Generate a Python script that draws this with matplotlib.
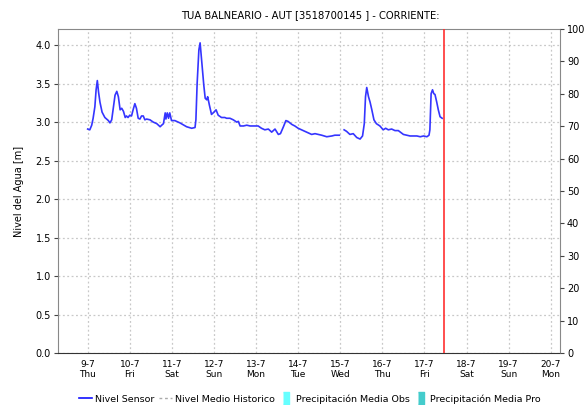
import numpy as np
import matplotlib
matplotlib.use("Agg")
import matplotlib.pyplot as plt
from matplotlib.lines import Line2D

# Sensor readings: hours since 9-7 00:00 and water level [m]; NaN marks the outage
hours = [0, 1.2, 2.3, 3.1, 4.1, 4.8, 5.5, 6.2, 7.0, 8.2, 9.8, 11.8, 12.7, 13.7,
         14.6, 15.6, 16.6, 17.5, 18.5, 19.4, 20.4, 21.4, 22.1, 23.0, 24.0, 25.0,
         25.9, 26.9, 27.8, 28.8, 29.8, 30.7, 31.7, 32.6, 33.6, 35.5, 37.4, 39.4,
         41.3, 42.2, 43.2, 44.2, 44.6, 45.4, 46.1, 46.8, 47.8, 49.7, 52.6, 56.4,
         59.3, 61.2, 61.7, 62.4, 63.4, 64.1, 64.8, 65.5, 66.2, 67.0, 67.9, 68.4,
         69.4, 70.6, 72.0, 73.2, 74.4, 76.3, 78.2, 79.2, 81.1, 83.0, 85.0, 85.9,
         86.9, 88.8, 90.7, 92.6, 94.6, 96.2, 97.2, 99.1, 101.0, 103.0, 104.9,
         106.8, 108.7, 109.9, 111.6, 113.0, 114.2, 116.4, 118.1, 120.0, 122.9,
         125.8, 127.7, 129.6, 131.5, 133.4, 136.3, 139.2, 140.9, 143.5, 144.8,
         146.2, 147.6, 149.5, 151.4, 153.4, 155.3, 156.7, 157.7, 158.4, 159.1,
         160.1, 161.0, 162.0, 163.2, 164.6, 166.6, 168.5, 169.9, 171.4, 173.3,
         175.2, 177.1, 180.0, 183.8, 187.7, 189.6, 191.5, 193.4, 194.6, 195.1,
         195.8, 196.6, 197.3, 198.0, 199.0, 199.9, 200.9, 202.1]
nivel = [2.91, 2.90, 2.96, 3.05, 3.20, 3.42, 3.54, 3.39, 3.26, 3.13, 3.06, 3.02,
         2.99, 3.03, 3.18, 3.35, 3.40, 3.33, 3.16, 3.18, 3.14, 3.06, 3.08, 3.06,
         3.09, 3.08, 3.16, 3.24, 3.18, 3.05, 3.04, 3.08, 3.08, 3.03, 3.04, 3.03,
         3.00, 2.98, 2.94, 2.96, 2.98, 3.12, 3.04, 3.12, 3.05, 3.12, 3.02, 3.02,
         2.99, 2.94, 2.92, 2.93, 3.03, 3.50, 3.94, 4.03, 3.85, 3.68, 3.48, 3.31,
         3.29, 3.33, 3.22, 3.10, 3.13, 3.16, 3.09, 3.06, 3.06, 3.05, 3.05, 3.03,
         3.00, 3.01, 2.95, 2.95, 2.96, 2.95, 2.95, 2.95, 2.95, 2.92, 2.90, 2.91,
         2.87, 2.91, 2.84, 2.85, 2.94, 3.02, 3.01, 2.97, 2.95, 2.92, 2.89, 2.86,
         2.84, 2.85, 2.84, 2.83, 2.81, 2.82, 2.83, 2.83, np.nan, 2.90, 2.88, 2.84,
         2.85, 2.80, 2.78, 2.82, 2.98, 3.33, 3.45, 3.33, 3.26, 3.16, 3.03, 2.98,
         2.95, 2.90, 2.92, 2.90, 2.91, 2.89, 2.89, 2.84, 2.82, 2.82, 2.81, 2.82,
         2.81, 2.83, 2.90, 3.37, 3.42, 3.37, 3.36, 3.26, 3.16, 3.07, 3.05]

day_labels = ["9-7", "10-7", "11-7", "12-7", "13-7", "14-7", "15-7", "16-7",
              "17-7", "18-7", "19-7", "20-7"]
weekdays = ["Thu", "Fri", "Sat", "Sun", "Mon", "Tue", "Wed", "Thu", "Fri",
            "Sat", "Sun", "Mon"]
now_hour = 203.0

plt.rcParams["font.family"] = ["DejaVu Sans"]

fig = plt.figure(figsize=(5.87, 4.05), dpi=100)
ax = fig.add_axes([58 / 587, 52 / 405, 502 / 587, 324 / 405])

days = np.array(hours) / 24.0
ax.plot(days, nivel, color="#3535ff", lw=1.2, zorder=3)
ax.axvline(now_hour / 24.0, color="#ff3030", lw=1.2, zorder=4)

ax.set_xlim(-0.705, 11.22)
ax.set_ylim(0, 4.21)
ax.set_yticks(np.arange(0, 4.01, 0.5))
ax.set_yticklabels([f"{v:.1f}" for v in np.arange(0, 4.01, 0.5)])
ax.set_xticks(range(len(day_labels)))
ax.set_xticklabels([f"{d}\n{w}" for d, w in zip(day_labels, weekdays)])
ax.grid(True, color="#c8c8c8", linestyle=(0, (1.5, 2)), lw=0.9)

for side in ("left", "top", "right"):
    ax.spines[side].set_color("#888888")
ax.spines["bottom"].set_color("#333333")
ax.spines["bottom"].set_linestyle((0, (1, 1)))

ax.tick_params(axis="y", labelsize=7, length=3, color="#444444", pad=2)
ax.tick_params(axis="x", labelsize=6.5, length=0, pad=5)
ax.set_ylabel("Nivel del Agua [m]", fontsize=7, labelpad=8)

ax2 = ax.twinx()
ax2.set_ylim(0, 100)
ax2.set_yticks(range(0, 101, 10))
ax2.tick_params(axis="y", labelsize=7, length=3, color="#444444", pad=2)
for side in ("left", "top", "right", "bottom"):
    ax2.spines[side].set_visible(False)

fig.text(310 / 587, 1 - 15 / 405, "TUA BALNEARIO - AUT [3518700145 ] - CORRIENTE:",
         ha="center", va="center", fontsize=7.2)

bar_marker = [(-0.45, -1), (0.45, -1), (0.45, 1), (-0.45, 1)]
handles = [
    Line2D([], [], color="#1010ff", lw=1.2),
    Line2D([], [], color="#aaaaaa", lw=1.0, linestyle=(0, (2, 2))),
    Line2D([], [], color="#66ffff", marker=bar_marker, markersize=9, linestyle="none"),
    Line2D([], [], color="#44cccc", marker=bar_marker, markersize=9, linestyle="none"),
]
labels = ["Nivel Sensor", "Nivel Medio Historico", "Precipitación Media Obs",
          "Precipitación Media Pro"]
fig.legend(handles, labels, loc="center", bbox_to_anchor=(310 / 587, 1 - 399 / 405),
           ncol=4, frameon=False, fontsize=6.8, handlelength=1.4, handletextpad=0.3,
           columnspacing=0.5)

fig.savefig("out.png", dpi=100)
